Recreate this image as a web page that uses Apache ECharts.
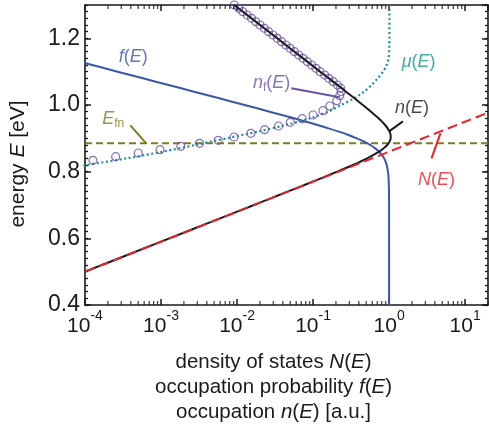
<!DOCTYPE html>
<html>
<head>
<meta charset="utf-8">
<script src="https://cdn.jsdelivr.net/npm/echarts@6/dist/echarts.min.js"></script>
<style>
html,body{margin:0;padding:0;background:#fff}
#chart{width:489px;height:433px}
</style>
</head>
<body>
<div id="chart"></div>
<script>
// ---- curve data: energy E [eV] and the matching value on the log axis ----
// occupation n(E)
const nE   = [0.50,0.55,0.60,0.65,0.70,0.72,0.74,0.76,0.78,0.80,0.82,0.84,0.86,0.87,0.88,0.89,0.90,0.91,0.92,0.93,0.94,0.95,0.96,0.98,1.00,1.02,1.04,1.06,1.08,1.10,1.15,1.20,1.25,1.30];
const nVal = [1.00e-4,3.60e-4,1.29e-3,4.65e-3,1.67e-2,2.78e-2,4.62e-2,7.69e-2,0.127,0.208,0.334,0.515,0.740,0.849,0.946,1.014,1.049,1.047,1.014,0.957,0.885,0.807,0.728,0.578,0.452,0.351,0.271,0.209,0.161,0.124,0.0649,0.0338,0.0177,0.0092];

// density of states N(E)
const NE   = [0.50,0.977];
const NVal = [1.0e-4,20];

// occupation probability f(E)
const fE   = [0.40,0.70,0.75,0.78,0.80,0.82,0.84,0.86,0.87,0.88,0.89,0.90,0.91,0.92,0.93,0.94,0.95,0.96,0.98,1.00,1.02,1.04,1.06,1.08,1.10,1.13];
const fVal = [1.0,0.9993,0.995,0.984,0.966,0.930,0.860,0.739,0.658,0.567,0.471,0.377,0.292,0.2185,0.160,0.1144,0.0808,0.0563,0.0268,0.01258,0.00585,0.00271,0.001255,0.000580,0.000268,0.000084];

// mu(E)
const muE   = [0.81,0.82,0.84,0.86,0.88,0.90,0.92,0.94,0.96,0.98,1.00,1.02,1.04,1.06,1.08,1.10,1.12,1.14,1.17,1.20,1.30];
const muVal = [6.3e-5,1.05e-4,3.55e-4,1.05e-3,2.82e-3,7.24e-3,1.86e-2,4.37e-2,9.12e-2,0.158,0.234,0.347,0.468,0.589,0.708,0.832,0.930,0.985,1.005,1.01,1.01];

// n_f(E) markers
const nfE   = [0.834,0.845,0.856,0.866,0.876,0.885,0.894,0.904,0.915,0.926,0.937,0.948,0.959,0.970,0.983,0.997,1.013,1.028,1.040,1.051,
               1.06,1.07,1.08,1.09,1.10,1.11,1.12,1.13,1.14,1.15,1.16,1.17,1.18,1.19,1.20,1.21,1.22,1.23,1.24,1.25,1.26,1.27,1.28,1.29,1.30];
const nfVal = [1.27e-4,2.53e-4,5.02e-4,9.70e-4,1.82e-3,3.21e-3,5.66e-3,9.14e-3,1.52e-2,2.31e-2,3.51e-2,5.02e-2,7.19e-2,0.100,0.135,0.166,0.205,0.224,0.234,0.230,
               0.209,0.184,0.161,0.142,0.124,0.109,0.0958,0.0841,0.0738,0.0648,0.0569,0.0499,0.0438,0.0385,0.0338,0.0297,0.0260,0.0229,0.0200,0.0176,0.0155,0.0136,0.0119,0.0105,0.0092];

// quasi-Fermi level E_fn
const EfnE   = [0.885,0.885];
const EfnVal = [1.0e-4,20];

// axis ranges
const xMin = 1e-4, xMax = 20;
const yMin = 0.4, yMax = 1.3;

const FONT = '"Liberation Sans", Arial, Helvetica, sans-serif';
const BLUE = '#3a58a8', TEAL = '#14958f', PURPLE = '#6a50a8', RED = '#e8212b', OLIVE = '#7f7b22', INK = '#1a1a1a';

const pairs = (xs, es) => xs.map((x, i) => [x, es[i]]);

// minor tick positions of the log axis (2..9 in every decade)
const logMinor = [];
for (let d = -4; d <= 1; d++) {
  for (let k = 2; k <= 9; k++) {
    const v = k * Math.pow(10, d);
    if (v <= xMax) logMinor.push(v);
  }
}

const it = (t) => '{i|' + t + '}';
const rm = (t) => '{n|' + t + '}';

function richFor(color, size) {
  return {
    i: {fontFamily: FONT, fontStyle: 'italic', fontSize: size, color: color},
    n: {fontFamily: FONT, fontSize: size, color: color},
    sub: {fontFamily: FONT, fontSize: 12, color: color, padding: [10, 0, 0, 0]}
  };
}

function note(x, e, text, color) {
  return {
    value: [x, e],
    label: {show: true, position: 'inside', formatter: text, rich: richFor(color, 18)}
  };
}

const notes = [
  note(4.3e-4, 1.143, it('f') + rm('(') + it('E') + rm(')'), BLUE),
  note(2.35e-4, 0.958, it('E') + '{sub|fn}', OLIVE),
  note(2.85e-2, 1.066, it('n') + '{sub|f}' + rm('(') + it('E') + rm(')'), PURPLE),
  note(2.45, 1.128, it('μ') + rm('(') + it('E') + rm(')'), TEAL),
  note(2.0, 0.990, it('n') + rm('(') + it('E') + rm(')'), INK),
  note(4.2, 0.775, it('N') + rm('(') + it('E') + rm(')'), RED)
];

function leader(pts, color) {
  return {
    type: 'line', data: pts, showSymbol: false, silent: true, z: 6,
    lineStyle: {color: color, width: 2}
  };
}

const majorTick = {show: true, inside: true, length: 6, lineStyle: {color: INK, width: 1.5}};
const axisLine = {show: true, onZero: false, lineStyle: {color: INK, width: 1.6}};

function xAxisDef(pos, withLabels) {
  const a = {
    type: 'log', logBase: 10, min: xMin, max: xMax, position: pos,
    axisLine: axisLine, axisTick: majorTick, splitLine: {show: false},
    axisLabel: {show: false}
  };
  if (withLabels) {
    a.axisLabel = {
      show: true, margin: 4,
      formatter: (v) => '{b|10}{s|' + Math.round(Math.log10(v)) + '}',
      rich: {
        b: {fontFamily: FONT, fontSize: 21, color: INK},
        s: {fontFamily: FONT, fontSize: 14, color: INK, padding: [0, 0, 20, 0]}
      }
    };
    a.name = rm('density of states ') + it('N') + rm('(') + it('E') + rm(')') + '\n' +
             rm('occupation probability ') + it('f') + rm('(') + it('E') + rm(')') + '\n' +
             rm('occupation ') + it('n') + rm('(') + it('E') + rm(') [a.u.]');
    a.nameLocation = 'middle';
    a.nameGap = 45;
    a.nameTextStyle = {
      padding: [0, 26, 0, 0], lineHeight: 25, align: 'center',
      rich: {
        i: {fontFamily: FONT, fontStyle: 'italic', fontSize: 20.5, color: INK, lineHeight: 25},
        n: {fontFamily: FONT, fontSize: 20.5, color: INK, lineHeight: 25}
      }
    };
  }
  return a;
}

function yAxisDef(pos, withLabels) {
  const a = {
    type: 'value', min: yMin, max: yMax, interval: 0.2, position: pos,
    axisLine: axisLine, axisTick: majorTick, splitLine: {show: false},
    axisLabel: {show: false}
  };
  if (withLabels) {
    a.axisLabel = {
      show: true, margin: 5, showMaxLabel: false,
      formatter: (v) => Math.abs(v - 1.3) < 1e-6 ? '' : v.toFixed(1),
      fontFamily: FONT, fontSize: 23, color: INK
    };
    a.name = rm('energy ') + it('E') + rm(' [eV]');
    a.nameLocation = 'middle';
    a.nameGap = 56;
    a.nameTextStyle = {
      padding: [0, 18, 0, 0],
      rich: {
        i: {fontFamily: FONT, fontStyle: 'italic', fontSize: 21, color: INK},
        n: {fontFamily: FONT, fontSize: 21, color: INK}
      }
    };
  }
  return a;
}

// fine ticks every 0.02 eV on both vertical edges
function yMinorDef(pos) {
  return {
    type: 'value', min: yMin, max: yMax, interval: 0.02, position: pos,
    axisLine: {show: false}, splitLine: {show: false}, axisLabel: {show: false},
    axisTick: {show: true, inside: true, length: 3, lineStyle: {color: INK, width: 1.3}}
  };
}

const chart = echarts.init(document.getElementById('chart'), null, {renderer: 'canvas'});
chart.setOption({
  animation: false,
  backgroundColor: '#fff',
  grid: {left: 82, right: 1, top: 5, bottom: 128, containLabel: false},
  xAxis: [xAxisDef('bottom', true), xAxisDef('top', false)],
  yAxis: [yAxisDef('left', true), yAxisDef('right', false), yMinorDef('left'), yMinorDef('right')],
  series: [
    {type: 'line', data: pairs(EfnVal, EfnE), showSymbol: false, silent: true, z: 2,
     lineStyle: {color: OLIVE, width: 2, type: [7, 4]}},
    {type: 'line', data: pairs(fVal, fE), showSymbol: false, silent: true, z: 3, smooth: 0.3,
     lineStyle: {color: BLUE, width: 2}},
    {type: 'line', data: pairs(muVal, muE), showSymbol: false, silent: true, z: 3, smooth: 0.3,
     lineStyle: {color: TEAL, width: 2.2, type: [2, 2.6]}},
    {type: 'scatter', data: pairs(nfVal, nfE), symbol: 'circle', symbolSize: 8, silent: true, z: 4,
     itemStyle: {color: 'rgba(255,255,255,0)', borderColor: PURPLE, borderWidth: 1.2}},
    {type: 'line', data: pairs(nVal, nE), showSymbol: false, silent: true, z: 5, smooth: 0.3,
     lineStyle: {color: INK, width: 2}},
    {type: 'line', data: pairs(NVal, NE), showSymbol: false, silent: true, z: 6,
     lineStyle: {color: RED, width: 2, type: [10, 5]}},
    // leader lines from the labels to their curves
    leader([[3.95e-4, 0.939], [6.38e-4, 0.885]], OLIVE),
    leader([[5.18e-2, 1.050], [0.224, 1.023]], PURPLE),
    leader([[1.52, 0.951], [1.0, 0.921]], INK),
    leader([[3.61, 0.840], [4.73, 0.915]], RED),
    // fine ticks of the log axis, bottom and top edges
    {type: 'scatter', data: logMinor.map(v => [v, yMin]), symbol: 'rect', symbolSize: [1.3, 4],
     symbolOffset: [0, -2], clip: false, silent: true, z: 10, itemStyle: {color: INK}},
    {type: 'scatter', data: logMinor.map(v => [v, yMax]), symbol: 'rect', symbolSize: [1.3, 4],
     symbolOffset: [0, 2], clip: false, silent: true, z: 10, itemStyle: {color: INK}},
    // curve labels
    {type: 'scatter', data: notes, symbolSize: 0, silent: true, z: 12, clip: false}
  ]
});
</script>
</body>
</html>
